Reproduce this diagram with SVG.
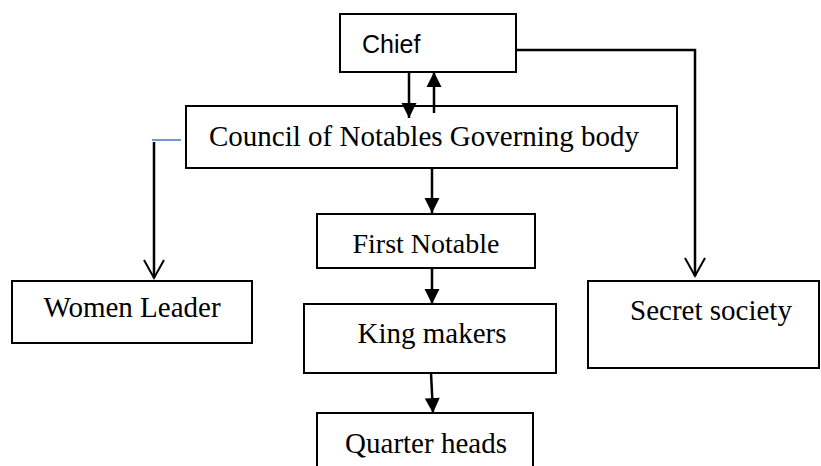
<svg xmlns="http://www.w3.org/2000/svg" width="821" height="466" viewBox="0 0 821 466">
<style>
.box{fill:#fff;stroke:#000;stroke-width:2}
.t{font-family:"Liberation Serif","Times New Roman",serif;font-size:29px;fill:#000}
.c{text-anchor:middle}
.s{font-family:"Liberation Sans",Arial,sans-serif;font-size:25px;fill:#000}
.ln{fill:none;stroke:#000;stroke-width:2.5}
</style>
<defs>
<marker id="fa" markerUnits="userSpaceOnUse" markerWidth="16" markerHeight="16" refX="15" refY="7.5" orient="auto" overflow="visible">
<path d="M0,0 L15,7.5 L0,15 Z" fill="#000"/>
</marker>
<marker id="va" markerUnits="userSpaceOnUse" markerWidth="20" markerHeight="22" refX="18" refY="10" orient="auto" overflow="visible">
<path d="M0,0 L18,10 L0,20" fill="none" stroke="#000" stroke-width="2"/>
</marker>
</defs>
<rect width="821" height="466" fill="#fff"/>
<g id="chief"><rect class="box" x="340" y="14" width="176" height="58"/><text class="s" x="362" y="53">Chief</text></g>
<g id="council"><rect class="box" x="186" y="106" width="491" height="62"/><text class="t" x="209" y="146">Council of Notables Governing body</text></g>
<g id="women"><rect class="box" x="12" y="281" width="240" height="62"/><text class="t c" x="132" y="317">Women Leader</text></g>
<g id="first"><rect class="box" x="317" y="214" width="218" height="54"/><text class="t c" x="426" y="253" style="font-size:28px">First Notable</text></g>
<g id="king"><rect class="box" x="304" y="304" width="252" height="69"/><text class="t c" x="432" y="343">King makers</text></g>
<g id="quarter"><rect class="box" x="317" y="413" width="216" height="60"/><text class="t c" x="426" y="453">Quarter heads</text></g>
<g id="secret"><rect class="box" x="588" y="281" width="231" height="87"/><text class="t c" x="711" y="320">Secret society</text></g>
<g id="connectors">
<line class="ln" x1="409" y1="72" x2="409" y2="118" marker-end="url(#fa)"/>
<line class="ln" x1="434" y1="113" x2="434" y2="72" marker-end="url(#fa)"/>
<line class="ln" x1="432" y1="168" x2="432" y2="213" marker-end="url(#fa)"/>
<line class="ln" x1="432" y1="268" x2="432" y2="304" marker-end="url(#fa)"/>
<line class="ln" x1="431" y1="373" x2="433" y2="413" marker-end="url(#fa)"/>
<polyline class="ln" points="516,50 695,50 695,276" stroke-width="2" marker-end="url(#va)"/>
<line x1="152" y1="140" x2="181" y2="140" stroke="#4472C4" stroke-width="1.5"/>
<line class="ln" x1="154" y1="142" x2="154" y2="278" marker-end="url(#va)"/>
</g>
</svg>
